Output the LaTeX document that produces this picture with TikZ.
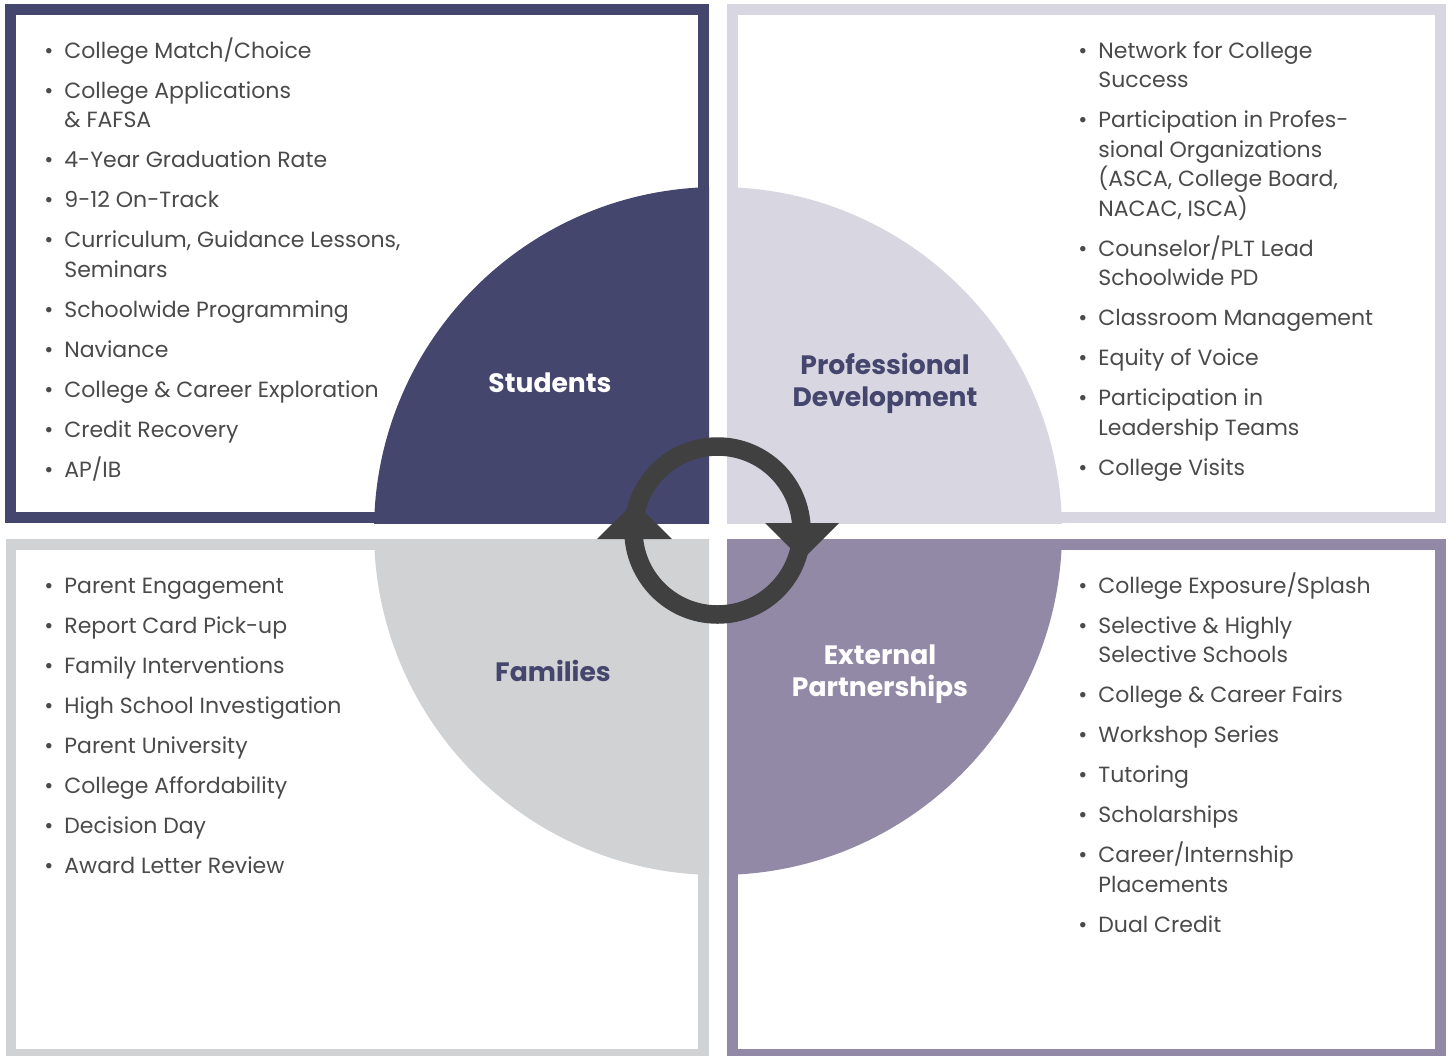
\documentclass[tikz,border=0pt]{standalone}
\usepackage{fontspec}
\setmainfont{Poppins}

\definecolor{navy}{HTML}{45466E}
\definecolor{lilac}{HTML}{D8D6E1}
\definecolor{ash}{HTML}{D1D2D4}
\definecolor{mauve}{HTML}{9289A6}
\definecolor{ink}{HTML}{404040}
\definecolor{txt}{HTML}{4A4A4A}

\newcommand{\itm}{\makebox[10pt][l]{\textbullet}}

\tikzset{
  lst/.style={anchor=base west, inner sep=0pt, text=txt,
    font=\fontsize{11}{14.75}\selectfont},
  lbl/.style={align=center, inner sep=0pt,
    font=\fontsize{13.3}{16}\selectfont\bfseries},
}

\begin{document}
\begin{tikzpicture}[x=0.5pt,y=-0.5pt]
    \clip (0,0) rectangle (1449,1055);
    \fill[white] (0,0) rectangle (1449,1055);

    \fill[navy] (5,4) rectangle (709,523);
    \fill[white] (16,15) rectangle (698,512);
    \fill[lilac] (727,4) rectangle (1446,523);
    \fill[white] (738,15) rectangle (1435,512);
    \fill[ash] (6,539) rectangle (709,1060);
    \fill[white] (16,550) rectangle (698,1049);
    \fill[mauve] (727,539) rectangle (1446,1060);
    \fill[white] (738,550) rectangle (1435,1049);

    \begin{scope}
      \clip (5,4) rectangle (709,523);
      \fill[navy] (718,531) circle (344);
    \end{scope}
    \begin{scope}
      \clip (727,4) rectangle (1446,523);
      \fill[lilac] (718,531) circle (344);
    \end{scope}
    \begin{scope}
      \clip (6,539) rectangle (709,1060);
      \fill[ash] (718,531) circle (344);
    \end{scope}
    \begin{scope}
      \clip (727,539) rectangle (1446,1060);
      \fill[mauve] (718,531) circle (344);
    \end{scope}

    \coordinate (C) at (717.5,530.5);
    \draw[ink, line width=9.25pt] (C) circle (84);
    \fill[ink] (597,539) -- (672,539) -- (634.5,502) -- cycle;
    \fill[ink] (765,523) -- (839,523) -- (802,560) -- cycle;

    \node[lbl, text=white] (Tstu) at (550,383) {Students};
    \node[lbl, text=navy] (Tpd) at (885,383) {Professional\\Development};
    \node[lbl, text=navy] (Tfam) at (553,671) {Families};
    \node[lbl, text=white] (Text) at (880,674) {External\\Partnerships};

    \node[lst] (Lstu) at (44,58) {\begin{tabular}[t]{@{}l@{}l@{}}
      \itm & College Match/Choice\\[5.25pt]
      \itm & College Applications\\ & \& FAFSA\\[5.25pt]
      \itm & 4-Year Graduation Rate\\[5.25pt]
      \itm & 9-12 On-Track\\[5.25pt]
      \itm & Curriculum, Guidance Lessons,\\ & Seminars\\[5.25pt]
      \itm & Schoolwide Programming\\[5.25pt]
      \itm & Naviance\\[5.25pt]
      \itm & College \& Career Exploration\\[5.25pt]
      \itm & Credit Recovery\\[5.25pt]
      \itm & AP/IB
    \end{tabular}};
    \node[lst] (Lpd) at (1078,58) {\begin{tabular}[t]{@{}l@{}l@{}}
      \itm & Network for College\\ & Success\\[5.25pt]
      \itm & Participation in Profes-\\ & sional Organizations\\ & (ASCA, College Board,\\ & NACAC, ISCA)\\[5.25pt]
      \itm & Counselor/PLT Lead\\ & Schoolwide PD\\[5.25pt]
      \itm & Classroom Management\\[5.25pt]
      \itm & Equity of Voice\\[5.25pt]
      \itm & Participation in\\ & Leadership Teams\\[5.25pt]
      \itm & College Visits
    \end{tabular}};
    \node[lst] (Lfam) at (44,593) {\begin{tabular}[t]{@{}l@{}l@{}}
      \itm & Parent Engagement\\[5.25pt]
      \itm & Report Card Pick-up\\[5.25pt]
      \itm & Family Interventions\\[5.25pt]
      \itm & High School Investigation\\[5.25pt]
      \itm & Parent University\\[5.25pt]
      \itm & College Affordability\\[5.25pt]
      \itm & Decision Day\\[5.25pt]
      \itm & Award Letter Review
    \end{tabular}};
    \node[lst] (Lext) at (1078,593) {\begin{tabular}[t]{@{}l@{}l@{}}
      \itm & College Exposure/Splash\\[5.25pt]
      \itm & Selective \& Highly\\ & Selective Schools\\[5.25pt]
      \itm & College \& Career Fairs\\[5.25pt]
      \itm & Workshop Series\\[5.25pt]
      \itm & Tutoring\\[5.25pt]
      \itm & Scholarships\\[5.25pt]
      \itm & Career/Internship\\ & Placements\\[5.25pt]
      \itm & Dual Credit
    \end{tabular}};
\end{tikzpicture}
\end{document}
